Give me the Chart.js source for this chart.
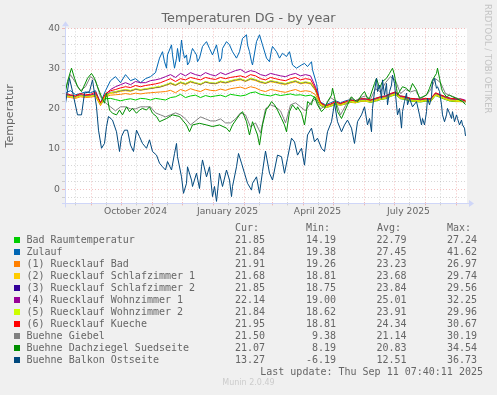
<!DOCTYPE html>
<html>
<head>
<meta charset="utf-8">
<script src="https://cdn.jsdelivr.net/npm/chart.js@4.4.1/dist/chart.umd.min.js"></script>
<style>
  html, body { margin: 0; padding: 0; background: #F0F0F0; }
  #wrap { position: relative; width: 497px; height: 395px; overflow: hidden; background: #F0F0F0; }
  #c { position: absolute; left: 0; top: 0; }
  .mono { position: absolute; font-family: "DejaVu Sans Mono", monospace; font-size: 10px; line-height: 12px; color: #666; white-space: pre; }
  .sq { position: absolute; width: 6px; height: 6px; }
  #wm { position: absolute; left: 483px; top: 4px; writing-mode: vertical-rl; font-family: "DejaVu Sans", sans-serif; font-size: 8.5px; color: #c4c4c4; white-space: nowrap; }
  #munin { position: absolute; left: 0; width: 497px; top: 378px; text-align: center; font-family: "DejaVu Sans", sans-serif; font-size: 8px; color: #cccccc; }
</style>
</head>
<body>
<div id="wrap">
  <canvas id="c" width="497" height="395"></canvas>
  <div id="wm">RRDTOOL / TOBI OETIKER</div>
  <div id="legend"></div>
  <div id="munin">Munin 2.0.49</div>
</div>
<script>
// ---------- data ----------
// days are counted from 2024-08-07 (graph start); day 400 = 2025-09-11
const sampleDays = [0,5,10,15,20,25,30,35,40,45,50,55,60,65,70,75,80,85,90,95,100,105,110,115,120,125,130,135,140,145,150,155,160,165,170,175,180,185,190,195,200,205,210,215,220,225,230,235,240,245,250,255,260,265,270,275,280,285,290,295,300,305,310,315,320,325,330,335,340,345,350,355,360,365,370,375,380,385,390,395,400];

const badRaum = [23.5,23.3,23.0,23.4,23.2,23.3,23.2,21.2,22.5,22.6,
  22.3,22.0,22.3,22.5,22.2,22.6,22.5,22.2,22.6,22.4,
  22.2,22.8,23.0,23.6,22.8,23.2,23.4,22.8,23.3,23.0,
  23.2,23.4,23.0,23.6,23.4,23.2,23.4,24.0,24.2,23.6,
  23.4,23.2,23.6,23.3,23.5,23.7,23.4,23.5,23.2,23.4,
  22.8,20.8,20.3,20.6,21.1,20.9,21.2,21.6,21.5,21.8,
  21.9,21.6,21.9,22.3,22.5,23.1,23.5,22.5,22.3,21.9,
  21.8,21.7,21.9,21.8,23.3,22.8,22.3,21.9,21.8,21.8,
  21.85];

const zulaufDays = [0,5,10,15,20,25,30,35,40,45,50,55,60,65,70,75,80,85,90,
  94,97,99,101,102,106,107,109,111,112,114,116,117,119,121,122,124,126,127,129,131,132,134,137,141,144,147,151,154,156,157,161,164,167,171,174,177,181,182,184,186,187,191,194,197,
  201,204,206,207,211,214,217,221,224,227,231,236,239,242,246,247,251,254,
  260,265,270,275,280,285,290,295,300,305,310,315,320,325,330,335,340,345,350,355,360,365,370,375,380,385,390,395,400];
const zulauf = [24.0,24.5,23.5,23.8,24.2,24.0,24.5,21.5,24.5,27.0,28.0,26.5,28.5,27.0,27.5,26.5,27.5,28.0,29.0,
  32.6,34.2,31.7,30.1,33.4,35.9,33.4,30.1,32.6,35.0,31.7,37.1,35.0,32.6,33.4,30.9,31.7,34.2,35.0,34.2,33.4,31.7,32.6,35.5,36.7,35.0,33.4,35.9,31.7,32.6,35.0,36.7,35.9,34.2,32.6,34.2,37.5,38.4,35.9,34.2,31.7,30.9,36.7,38.4,35.9,
  32.6,31.7,34.6,35.5,34.2,32.6,33.8,33.0,34.2,30.9,30.1,30.9,31.3,30.5,31.7,29.7,26.3,21.8,
  21.0,21.5,22.0,21.5,22.0,22.3,22.0,22.5,22.5,22.2,22.6,23.0,23.2,23.8,24.0,23.2,23.0,22.6,22.5,22.4,22.5,22.4,23.8,23.4,23.0,22.6,22.5,22.2,21.84];

const rlBad = [23.0,22.8,22.6,23.0,22.8,22.9,23.1,20.8,23.0,23.4,
  23.5,23.6,23.8,23.6,23.9,23.7,23.9,24.0,24.1,24.2,
  24.3,24.6,24.0,24.8,24.4,25.0,24.6,24.3,24.9,24.6,
  24.5,24.9,24.6,25.0,25.2,25.4,25.0,25.5,25.2,24.6,
  24.3,24.8,24.6,24.3,24.1,24.5,24.8,24.3,24.5,24.3,
  23.5,21.0,20.4,20.8,21.3,21.0,21.4,21.8,21.6,22.0,
  22.0,21.8,22.1,22.5,22.7,23.3,23.7,22.7,22.5,22.1,
  22.0,21.9,22.1,22.0,23.5,23.0,22.5,22.1,22.0,22.0,
  21.91];
const rlSchlaf1 = [23.2,23.0,22.8,23.2,23.0,23.1,23.4,21.0,23.2,23.8,
  24.0,24.3,24.5,24.3,24.8,24.6,24.8,25.0,25.2,25.4,
  25.8,26.2,25.8,26.4,26.0,26.6,26.3,26.0,26.6,26.3,
  26.2,26.6,26.4,26.7,27.0,27.2,26.8,27.3,27.0,26.5,
  26.3,26.7,26.5,26.2,26.0,26.4,26.7,26.2,26.4,26.2,
  24.5,21.0,20.3,20.7,21.2,20.9,21.3,21.7,21.5,21.9,
  21.9,21.7,22.0,22.4,22.6,23.2,23.6,22.6,22.4,22.0,
  21.9,21.8,22.0,21.9,23.4,22.9,22.4,22.0,21.9,21.8,
  21.68];
const rlSchlaf2 = [23.4,23.2,23.0,23.4,23.2,23.3,23.6,21.2,23.4,24.1,
  24.2,24.5,24.7,24.5,24.9,24.7,24.9,25.1,25.3,25.5,
  25.9,26.4,25.9,26.6,26.2,26.8,26.4,26.1,26.7,26.4,
  26.3,26.8,26.5,26.9,27.2,27.4,26.9,27.5,27.2,26.7,
  26.4,26.9,26.7,26.4,26.2,26.6,26.9,26.4,26.6,26.4,
  24.7,21.3,20.6,21.0,21.5,21.2,21.6,22.0,21.8,22.2,
  22.2,22.0,22.3,22.7,22.9,23.5,23.9,22.9,22.7,22.3,
  22.2,22.1,22.3,22.2,23.7,23.2,22.7,22.3,22.2,22.1,
  21.85];
const rlWohn1 = [23.5,23.3,23.0,23.5,23.3,23.4,23.8,21.2,23.5,24.8,
  25.5,26.0,26.5,26.0,26.8,26.5,26.5,27.0,27.2,27.5,
  28.0,28.5,27.8,28.8,28.2,29.0,28.5,28.2,29.0,28.5,
  28.2,29.0,28.5,29.0,29.5,29.8,29.0,29.5,29.2,28.5,
  28.2,28.8,28.5,28.2,28.0,28.5,28.8,28.2,28.5,28.2,
  25.5,21.5,20.6,21.0,21.5,21.2,21.6,22.0,21.8,22.2,
  22.2,22.0,22.3,22.7,23.0,23.6,24.0,23.0,22.8,22.4,
  22.3,22.2,22.4,22.3,23.8,23.3,22.8,22.4,22.3,22.5,
  22.14];
const rlWohn2 = [23.3,23.1,22.9,23.3,23.1,23.2,23.5,21.1,23.3,24.0,
  24.3,24.6,24.8,24.6,25.0,24.8,25.0,25.2,25.4,25.6,
  26.0,26.5,26.0,26.7,26.3,26.9,26.5,26.2,26.8,26.5,
  26.4,26.9,26.6,27.0,27.3,27.5,27.0,27.6,27.3,26.8,
  26.5,27.0,26.8,26.5,26.3,26.7,27.0,26.5,26.7,26.5,
  24.8,21.2,20.5,20.9,21.4,21.1,21.5,21.9,21.7,22.1,
  22.1,21.9,22.2,22.6,22.8,23.4,23.8,22.8,22.6,22.2,
  22.1,22.0,22.2,22.1,23.6,23.1,22.6,22.2,22.1,22.0,
  21.84];
const rlKueche = [23.8,23.5,23.2,23.8,23.5,23.6,24.2,21.5,23.8,24.5,
  24.8,25.2,25.5,25.3,25.8,25.5,25.8,26.0,26.2,26.5,
  27.0,27.5,26.8,27.5,27.2,27.8,27.5,27.2,27.8,27.5,
  27.3,27.8,27.5,27.8,28.0,28.2,27.8,28.5,28.2,27.5,
  27.2,27.8,27.5,27.2,27.0,27.5,27.8,27.2,27.5,27.3,
  25.0,21.5,20.8,21.2,21.8,21.3,21.8,22.2,22.0,22.5,
  22.5,22.2,22.6,23.0,23.2,23.8,24.2,23.2,23.0,22.6,
  22.5,22.4,22.6,22.5,24.0,23.5,23.0,22.6,22.5,22.4,
  21.95];
const giebel = [25.0,28.5,26.5,24.5,25.5,28.0,27.0,23.0,21.5,20.5,
  19.5,20.5,20.5,20.0,20.0,20.5,20.5,20.5,19.0,18.5,
  18.0,18.5,19.0,18.5,17.5,16.0,17.0,18.0,17.5,17.0,
  17.0,17.5,16.5,16.5,17.5,19.0,18.5,15.5,16.5,14.0,
  20.0,21.0,20.5,19.5,16.5,21.0,21.5,20.5,19.5,21.5,
  22.5,20.0,20.8,22.8,22.0,18.5,20.8,22.8,22.0,22.8,
  23.2,22.4,25.0,24.2,26.5,28.0,27.0,23.8,24.8,24.2,
  24.6,22.5,23.3,24.7,27.5,26.5,23.8,23.3,22.8,22.3,
  21.5];

const dachziegelDays = [0,2,6,9,12,16,19,22,26,29,32,36,39,41,42,44,47,51,54,57,61,64,67,71,74,77,81,84,87,91,
  94,101,107,114,121,124,127,134,141,147,154,161,164,167,174,177,181,184,187,192,194,197,201,
  202,206,209,212,216,219,221,224,227,231,232,236,239,241,242,246,247,249,252,256,259,262,266,267,269,272,276,279,282,286,289,292,296,299,302,
  304,309,311,314,317,321,324,327,329,331,332,334,337,341,344,347,351,354,357,361,364,367,371,372,374,376,377,381,384,387,391,394,397,400];
const dachziegel = [24.3,26.8,30.1,27.6,25.5,24.3,25.9,27.6,28.8,27.6,25.5,23.0,21.4,23.9,22.6,19.7,18.9,18.5,19.7,18.5,20.5,19.3,20.1,18.9,19.7,20.1,19.7,20.5,18.9,18.1,
  16.8,17.6,18.5,18.1,16.0,14.3,16.0,16.4,16.0,15.6,16.0,15.2,14.3,16.0,18.5,19.3,16.8,13.5,16.8,13.5,11.0,16.0,20.1,
  20.1,21.8,21.0,19.7,17.6,16.0,14.3,19.3,21.0,19.7,20.5,18.9,16.0,19.3,21.8,21.0,22.2,23.0,21.0,19.3,20.1,21.8,23.4,25.1,23.0,19.3,17.6,19.3,21.0,23.0,22.2,21.8,23.4,24.3,22.6,
  22.6,26.3,27.6,25.1,26.8,27.6,28.8,30.1,28.4,25.1,23.4,24.3,25.5,25.1,24.3,26.3,24.7,22.6,23.0,23.4,25.1,27.2,28.8,30.1,27.6,25.1,24.3,23.0,23.4,23.0,22.6,22.2,21.8,21.07];

const balkonDays = [0,4,7,12,16,19,24,27,31,33,36,39,41,43,47,51,54,56,59,62,65,68,71,74,77,81,84,87,91,94,97,
  100,102,106,109,111,112,116,118,121,122,126,127,131,134,136,137,141,144,147,149,151,154,157,161,164,166,167,171,173,176,179,182,186,187,191,194,197,
  200,204,207,212,216,219,222,226,229,232,236,239,242,246,249,252,256,259,262,266,269,272,276,279,282,286,289,292,296,299,302,
  304,306,307,309,311,312,314,316,317,319,321,322,324,326,327,329,331,332,334,336,337,339,341,342,344,347,351,354,356,357,359,361,362,364,366,367,369,371,372,374,376,377,379,381,382,384,386,387,389,391,392,394,396,397,399,400];
const balkon = [21.4,27.6,24.3,18.5,18.5,23.9,24.3,27.2,20.5,14.7,10.2,11.4,15.6,18.1,17.2,14.3,9.4,13.1,14.7,14.7,11.0,9.4,14.7,13.1,11.4,10.2,12.3,9.4,8.5,6.5,5.6,
  4.8,6.9,4.8,8.9,11.4,8.1,3.1,-1.0,1.5,5.6,2.3,0.7,4.0,0.2,5.6,7.3,3.1,5.6,-1.8,0.7,-3.0,4.0,0.7,4.8,2.3,-1.8,0.7,5.6,8.9,6.5,4.0,1.5,-0.2,1.5,3.1,-1.0,4.4,
  9.5,4.0,2.3,8.5,8.1,4.0,7.7,12.7,11.8,8.5,10.2,6.0,13.5,15.2,11.8,12.7,10.2,9.4,14.3,16.8,21.4,16.8,14.3,16.0,17.2,15.2,11.4,16.8,18.5,20.5,16.0,
  17.6,14.3,20.1,24.3,27.6,24.3,25.9,22.6,27.2,23.4,26.3,21.0,24.3,25.9,28.4,26.3,21.0,18.5,20.1,15.2,19.3,21.8,23.9,21.0,22.6,20.5,21.8,18.5,16.0,17.6,16.0,19.3,22.6,21.0,23.0,26.8,27.6,25.1,25.5,24.3,21.0,18.5,16.8,18.5,20.1,18.9,17.6,19.3,16.8,18.5,17.6,16.0,17.2,16.0,15.2,13.27];

const seriesNames = ['Bad Raumtemperatur','Zulauf','(1) Ruecklauf Bad','(2) Ruecklauf Schlafzimmer 1','(3) Ruecklauf Schlafzimmer 2','(4) Ruecklauf Wohnzimmer 1','(5) Ruecklauf Wohnzimmer 2','(6) Ruecklauf Kueche','Buehne Giebel','Buehne Dachziegel Suedseite','Buehne Balkon Ostseite'];
const seriesColors = ['#00CC00','#0066B3','#FF8000','#FFCC00','#330099','#990099','#CCFF00','#FF0000','#808080','#008F00','#00487D'];
const seriesValues = [badRaum, zulauf, rlBad, rlSchlaf1, rlSchlaf2, rlWohn1, rlWohn2, rlKueche, giebel, dachziegel, balkon];
const seriesDays = [sampleDays, zulaufDays, sampleDays, sampleDays, sampleDays, sampleDays, sampleDays, sampleDays, sampleDays, dachziegelDays, balkonDays];
const curValues = ['21.85','21.84','21.91','21.68','21.85','22.14','21.84','21.95','21.50','21.07','13.27'];
const minValues = ['14.19','19.38','19.26','18.81','18.75','19.00','18.62','18.81','9.38','8.19','-6.19'];
const avgValues = ['22.79','27.45','23.23','23.68','23.84','25.01','23.91','24.34','21.14','20.83','12.51'];
const maxValues = ['27.24','41.62','26.97','29.74','29.56','32.25','29.96','30.67','30.19','34.54','36.73'];

// axis ticks
const yTickValues = [0, 10, 20, 30, 40];
const yMinorValues = [-2, 2, 4, 6, 8, 12, 14, 16, 18, 22, 24, 26, 28, 32, 34, 36, 38];
const monthStartDays = [25, 55, 86, 116, 147, 178, 206, 237, 267, 298, 328, 359, 390];
const midMonthDays = [9, 40, 70, 101, 131, 162, 193, 221, 252, 282, 313, 343, 374];
const xLabelDays = [70, 162, 252, 343];
const xLabelTexts = ['October 2024', 'January 2025', 'April 2025', 'July 2025'];
const lastUpdate = 'Last update: Thu Sep 11 07:40:11 2025';

// ---------- legend (HTML text) ----------
const legend = document.getElementById('legend');
function addText(txt, left, top, align, width) {
  const d = document.createElement('div');
  d.className = 'mono';
  d.textContent = txt;
  d.style.top = top + 'px';
  if (align === 'right') { d.style.left = (left - width) + 'px'; d.style.width = width + 'px'; d.style.textAlign = 'right'; }
  else d.style.left = left + 'px';
  legend.appendChild(d);
}
const rowTop0 = 222;
addText('Cur:', 235, rowTop0);
addText('Min:', 306, rowTop0);
addText('Avg:', 377, rowTop0);
addText('Max:', 447, rowTop0);
seriesNames.forEach((n, i) => {
  const top = rowTop0 + 12 * (i + 1);
  const sq = document.createElement('div');
  sq.className = 'sq';
  sq.style.left = '14px'; sq.style.top = (top + 3) + 'px';
  sq.style.background = seriesColors[i];
  legend.appendChild(sq);
  addText(n, 26.5, top);
  addText(curValues[i], 265, top, 'right', 40);
  addText(minValues[i], 336, top, 'right', 40);
  addText(avgValues[i], 406.5, top, 'right', 40);
  addText(maxValues[i], 477, top, 'right', 40);
});
addText(lastUpdate, 483, rowTop0 + 12 * 12, 'right', 240);

// ---------- chart ----------
const MINOR = 'rgba(150,150,150,0.38)';
const MAJOR = 'rgba(225,90,90,0.38)';
const AXIS = '#CFD6F8';

const rrdPlugin = {
  id: 'rrd',
  beforeDraw(chart) {
    const { ctx, chartArea: a } = chart;
    ctx.save();
    ctx.fillStyle = '#F0F0F0';
    ctx.fillRect(0, 0, chart.width, chart.height);
    ctx.fillStyle = '#FFFFFF';
    ctx.fillRect(a.left, a.top, a.right - a.left, a.bottom - a.top);
    ctx.restore();
  },
  beforeDatasetsDraw(chart) {
    const { ctx, chartArea: a, scales } = chart;
    const x = scales.x, y = scales.y;
    ctx.save();
    ctx.lineWidth = 1;
    const hline = (v, color) => {
      const py = Math.round(y.getPixelForValue(v)) + 0.5;
      ctx.strokeStyle = color;
      ctx.setLineDash([1, 2]);
      ctx.beginPath(); ctx.moveTo(a.left, py); ctx.lineTo(a.right, py); ctx.stroke();
      ctx.setLineDash([]);
      ctx.beginPath(); ctx.moveTo(a.left - 3, py); ctx.lineTo(a.left, py); ctx.stroke();
    };
    const vline = (d, color) => {
      const px = Math.round(x.getPixelForValue(d)) + 0.5;
      ctx.strokeStyle = color;
      ctx.setLineDash([1, 2]);
      ctx.beginPath(); ctx.moveTo(px, a.top); ctx.lineTo(px, a.bottom); ctx.stroke();
      ctx.setLineDash([]);
      ctx.beginPath(); ctx.moveTo(px, a.bottom - 1); ctx.lineTo(px, a.bottom + 2); ctx.stroke();
    };
    yMinorValues.forEach(v => hline(v, MINOR));
    midMonthDays.forEach(d => vline(d, MINOR));
    yTickValues.forEach(v => hline(v, MAJOR));
    monthStartDays.forEach(d => vline(d, MAJOR));
    ctx.restore();
  },
  afterDatasetsDraw(chart) {
    const { ctx, chartArea: a } = chart;
    ctx.save();
    ctx.strokeStyle = AXIS; ctx.fillStyle = AXIS; ctx.lineWidth = 1;
    const by = Math.round(a.bottom) + 0.5;
    const lx = Math.round(a.left) + 0.5;
    ctx.beginPath(); ctx.moveTo(a.left - 3, by); ctx.lineTo(a.right + 2, by); ctx.stroke();
    ctx.beginPath(); ctx.moveTo(a.right + 2, by - 3.5); ctx.lineTo(a.right + 7, by); ctx.lineTo(a.right + 2, by + 3.5); ctx.closePath(); ctx.fill();
    ctx.beginPath(); ctx.moveTo(lx, a.bottom + 4); ctx.lineTo(lx, a.top - 2); ctx.stroke();
    ctx.beginPath(); ctx.moveTo(lx - 3.5, a.top - 2); ctx.lineTo(lx, a.top - 7); ctx.lineTo(lx + 3.5, a.top - 2); ctx.closePath(); ctx.fill();
    ctx.restore();
  }
};

const datasets = seriesNames.map((name, i) => ({
  label: name,
  data: seriesDays[i].map((d, j) => ({ x: d, y: seriesValues[i][j] })),
  borderColor: seriesColors[i],
  backgroundColor: seriesColors[i],
  borderWidth: 1,
  pointRadius: 0,
  tension: 0,
  fill: false,
  order: seriesNames.length - i
}));

new Chart(document.getElementById('c'), {
  type: 'line',
  data: { datasets },
  plugins: [rrdPlugin],
  options: {
    responsive: false,
    animation: false,
    devicePixelRatio: 1,
    layout: { padding: { top: 0, left: 0, right: 0, bottom: 169.6 } },
    plugins: {
      legend: { display: false },
      tooltip: { enabled: false },
      title: {
        display: true,
        text: 'Temperaturen DG - by year',
        color: '#666666',
        font: { family: 'DejaVu Sans', size: 12.8, weight: 'normal', lineHeight: 1.2 },
        padding: { top: 11.3, bottom: 1.7 }
      }
    },
    scales: {
      x: {
        type: 'linear', min: -0.5, max: 401.5,
        grid: { display: false, drawTicks: false },
        border: { display: false },
        ticks: {
          autoSkip: false, maxRotation: 0, padding: 3,
          color: '#666666',
          font: { family: 'DejaVu Sans', size: 9.2 },
          callback: (v) => { const k = xLabelDays.indexOf(v); return k >= 0 ? xLabelTexts[k] : ''; }
        },
        afterBuildTicks: (s) => { s.ticks = xLabelDays.map(v => ({ value: v })); },
        afterFit: (s) => { s.height = 22; }
      },
      y: {
        type: 'linear', min: -3.5, max: 40,
        grid: { display: false, drawTicks: false },
        border: { display: false },
        ticks: { padding: 5, color: '#666666', font: { family: 'DejaVu Sans', size: 9.3 } },
        afterBuildTicks: (s) => { s.ticks = yTickValues.map(v => ({ value: v })); },
        title: { display: true, text: 'Temperatur', color: '#666666', font: { family: 'DejaVu Sans', size: 11 }, padding: { top: 3.9, bottom: 0 } },
        afterFit: (s) => { s.width = 65; }
      },
      yRight: {
        type: 'linear', position: 'right',
        grid: { display: false, drawTicks: false },
        border: { display: false },
        ticks: { display: false },
        afterFit: (s) => { s.width = 30; }
      }
    }
  }
});
</script>
</body>
</html>
